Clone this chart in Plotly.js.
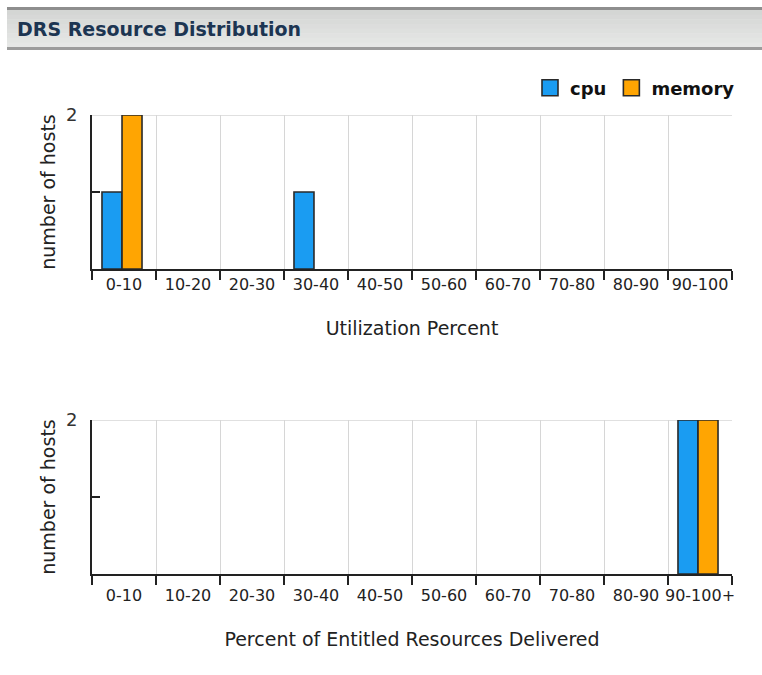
<!DOCTYPE html>
<html>
<head>
<meta charset="utf-8">
<script src="https://cdn.plot.ly/plotly-3.0.1.min.js"></script>
<style>html,body{margin:0;padding:0;background:#fff;}#chart{width:762px;height:675px;}</style>
</head>
<body>
<div id="chart"></div>
<script>
// ---- data ----
const utilCategories = ['0-10','10-20','20-30','30-40','40-50','50-60','60-70','70-80','80-90','90-100'];
const utilCpu        = [1,0,0,1,0,0,0,0,0,0];
const utilMemory     = [2,0,0,0,0,0,0,0,0,0];

const entCategories  = ['0-10','10-20','20-30','30-40','40-50','50-60','60-70','70-80','80-90','90-100+'];
const entCpu         = [0,0,0,0,0,0,0,0,0,2];
const entMemory      = [0,0,0,0,0,0,0,0,0,2];

const yTickVals  = [0,1,2];
const yTickText  = ['','','2'];
const seriesNames = ['cpu','memory'];

// ---- styling ----
const W = 762, H = 675;
const cpuColor = '#1a9cf2', memColor = '#ffa502', outline = '#2a2a2a';
const px = v => v / W, py = v => 1 - v / H;

function bar(x, y, name, color, off, xa, ya) {
  return {type:'bar', x:x, y:y, name:name, showlegend:false,
    marker:{color:color, line:{color:outline, width:y.map(v => v > 0 ? 1.6 : 0)}},
    offset:off, width:0.3125, xaxis:xa, yaxis:ya, hoverinfo:'x+y+name'};
}

const traces = [
  bar(utilCategories, utilCpu, seriesNames[0], cpuColor, -0.344, 'x', 'y'),
  bar(utilCategories, utilMemory, seriesNames[1], memColor, -0.031, 'x', 'y'),
  bar(entCategories, entCpu, seriesNames[0], cpuColor, -0.344, 'x2', 'y2'),
  bar(entCategories, entMemory, seriesNames[1], memColor, -0.031, 'x2', 'y2'),
  // legend entries
  {type:'scatter', mode:'markers', x:[null], y:[null], name:seriesNames[0], xaxis:'x', yaxis:'y',
   marker:{symbol:'square', size:16, color:cpuColor, line:{color:outline, width:1.6}}},
  {type:'scatter', mode:'markers', x:[null], y:[null], name:seriesNames[1], xaxis:'x', yaxis:'y',
   marker:{symbol:'square', size:16, color:memColor, line:{color:outline, width:1.6}}}
];

function xax(domainY, cats, title, standoffLbl, titleStandoff) {
  return {
    type:'category', categoryorder:'array', categoryarray:cats,
    domain:[px(92), px(732)], range:[-0.5, 9.5], anchor: domainY,
    tickson:'boundaries', ticks:'outside', ticklen:9, tickwidth:2, tickcolor:'#222',
    showgrid:true, gridcolor:'#d6d6d6', gridwidth:1,
    showline:true, linecolor:'#222', linewidth:2,
    tickangle:0, tickfont:{size:16, color:'#222'}, ticklabelstandoff:standoffLbl,
    title:{text:title, font:{size:19, color:'#222'}, standoff:titleStandoff},
    fixedrange:true, automargin:false
  };
}
function yax(d0, d1, anchorX) {
  return {
    domain:[py(d1), py(d0)], range:[0,2], anchor:anchorX,
    tickvals:yTickVals, ticktext:yTickText,
    ticks:'inside', ticklen:8, tickwidth:2, tickcolor:'#222',
    showline:true, linecolor:'#222', linewidth:2,
    showgrid:false, zeroline:false,
    tickfont:{size:18, color:'#333'}, ticklabelstandoff:9,
    title:{text:'number of hosts', font:{size:19, color:'#222'}, standoff:5},
    fixedrange:true, automargin:false
  };
}

const headerShapes = [];
const bandTop = 10, bandBot = 47;
const c0 = [212,214,212], c1 = [230,231,230];
for (let i = 0; i < 8; i++) {
  const t = i / 7;
  const c = c0.map((a, k) => Math.round(a + (c1[k] - a) * t));
  const y0 = bandTop + (bandBot - bandTop) * i / 8, y1 = bandTop + (bandBot - bandTop) * (i + 1) / 8;
  headerShapes.push({type:'rect', xref:'paper', yref:'paper', x0:px(7), x1:1, y0:py(y1 + 0.5), y1:py(y0),
    fillcolor:'rgb(' + c.join(',') + ')', line:{width:0}, layer:'below'});
}
headerShapes.push({type:'rect', xref:'paper', yref:'paper', x0:px(7), x1:1, y0:py(10), y1:py(7), fillcolor:'#8e8e8e', line:{width:0}, layer:'below'});
headerShapes.push({type:'rect', xref:'paper', yref:'paper', x0:px(7), x1:1, y0:py(50), y1:py(47), fillcolor:'#9c9c9c', line:{width:0}, layer:'below'});

const layout = {
  width:W, height:H, margin:{l:0, r:0, t:0, b:0},
  paper_bgcolor:'#ffffff', plot_bgcolor:'#ffffff',
  font:{family:'DejaVu Sans, Verdana, sans-serif', color:'#222'},
  title:{text:'DRS Resource Distribution', x:px(17), xanchor:'left', xref:'paper',
         y:py(29), yanchor:'middle', yref:'paper',
         font:{family:'DejaVu Sans, sans-serif', size:19, weight:'bold', color:'#1c3552'}},
  barmode:'overlay',
  xaxis: xax('y', utilCategories, 'Utilization Percent', 0, 28),
  yaxis: yax(115, 269, 'x'),
  xaxis2: xax('y2', entCategories, 'Percent of Entitled Resources Delivered', 6, 28),
  yaxis2: yax(420, 574, 'x2'),
  showlegend:true,
  legend:{orientation:'h', x:px(740), xanchor:'right', y:py(88), yanchor:'middle',
          itemsizing:'trace', itemwidth:30, tracegroupgap:0,
          font:{size:18, weight:'bold', color:'#111'}, bgcolor:'rgba(0,0,0,0)'},
  shapes: headerShapes.concat([
    {type:'line', xref:'x domain', yref:'y', x0:0, x1:1, y0:2, y1:2, line:{color:'#d6d6d6', width:1.5}, layer:'below'},
    {type:'line', xref:'x2 domain', yref:'y2', x0:0, x1:1, y0:2, y1:2, line:{color:'#d6d6d6', width:1.5}, layer:'below'}
  ])
};

Plotly.newPlot('chart', traces, layout, {displayModeBar:false, staticPlot:true});
</script>
</body>
</html>
